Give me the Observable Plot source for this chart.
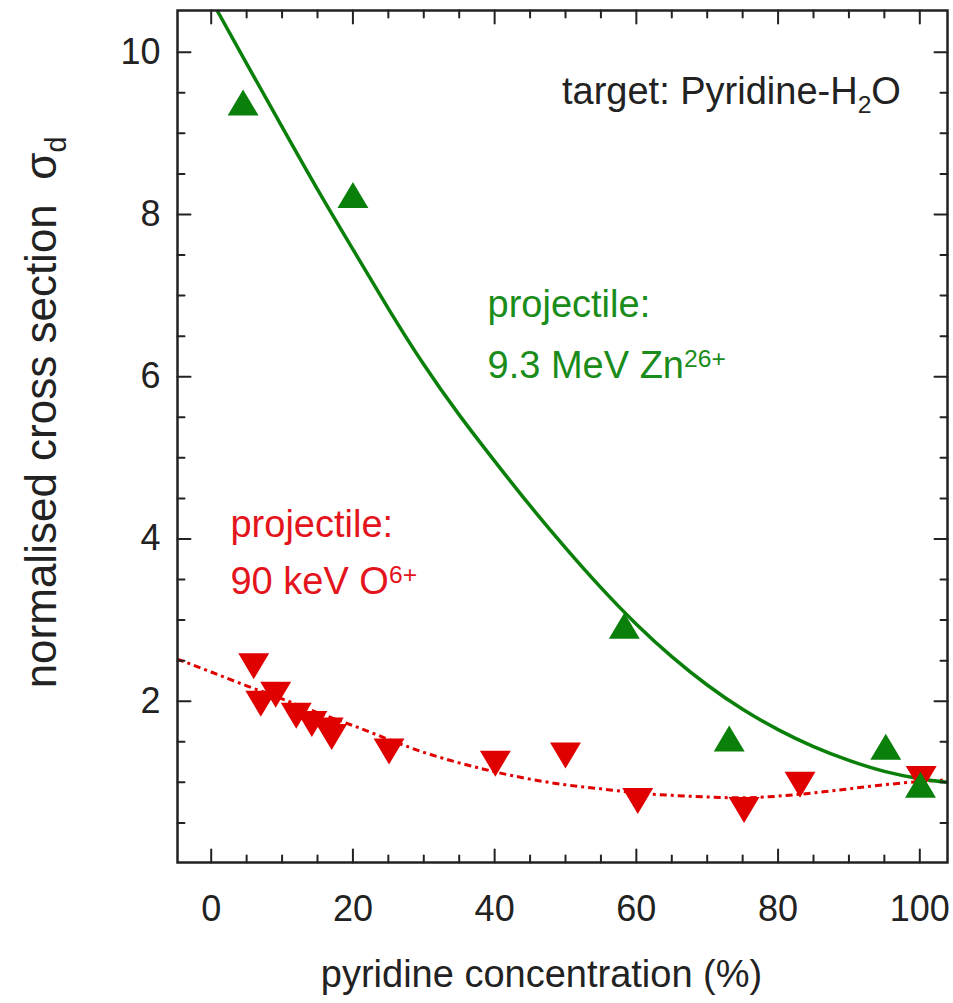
<!DOCTYPE html>
<html><head><meta charset="utf-8">
<script src="https://cdn.jsdelivr.net/npm/d3@7"></script>
<script src="https://cdn.jsdelivr.net/npm/@observablehq/plot@0.6"></script>
<style>
body{margin:0;background:#fff;}
#chart svg{display:block;}
</style></head><body><div id="chart"></div>
<script>
// ---- data ----
const znX = [4.5, 20.0, 58.3, 73.1, 95.2, 100.1];
const znY = [9.38, 8.24, 2.93, 1.54, 1.44, 0.97];
const oX = [6.0, 7.0, 9.1, 12.0, 14.2, 16.5, 17.0, 25.1, 40.1, 50.0, 60.2, 75.2, 83.1, 100.2];
const oY = [2.43, 1.97, 2.08, 1.82, 1.72, 1.64, 1.56, 1.38, 1.23, 1.33, 0.77, 0.66, 0.97, 1.04];
const znFitX = [0.8, 5, 10, 15, 20, 25, 30, 35, 40, 45, 50, 55, 60, 65, 70, 75, 80, 85, 90, 95, 100, 104];
const znFitY = [10.52, 9.86, 9.08, 8.31, 7.57, 6.84, 6.15, 5.53, 4.96, 4.41, 3.89, 3.40, 2.95, 2.55, 2.20, 1.90, 1.65, 1.44, 1.27, 1.135, 1.045, 1.00];
const oFitX = [-4.8, 0, 5, 10, 15, 20, 25, 30, 35, 40, 45, 50, 55, 60, 65, 70, 75, 80, 85, 90, 95, 100, 104];
const oFitY = [2.52, 2.36, 2.19, 2.03, 1.86, 1.70, 1.53, 1.37, 1.24, 1.13, 1.04, 0.97, 0.92, 0.87, 0.84, 0.82, 0.81, 0.83, 0.87, 0.92, 0.97, 1.01, 1.03];
const xTicks = [0, 20, 40, 60, 80, 100];
const xMinor = [5, 10, 15, 25, 30, 35, 45, 50, 55, 65, 70, 75, 85, 90, 95];
const yTicks = [2, 4, 6, 8, 10];
const yMinor = [0.5, 1, 1.5, 2.5, 3, 3.5, 4.5, 5, 5.5, 6.5, 7, 7.5, 8.5, 9, 9.5];
const xLabel = "pyridine concentration (%)";
const yLabel = "normalised cross section  σ_{d}";
const targetText = "target: Pyridine-H_{2}O";
const znText = ["projectile:", "9.3 MeV Zn^{26+}"];
const oText = ["projectile:", "90 keV O^{6+}"];

// ---- build ----
const xDom = [-4.756, 103.91], yDom = [0.012, 10.514];
const zn = znX.map((x, i) => ({x, y: znY[i]}));
const ox = oX.map((x, i) => ({x, y: oY[i]}));
const znFit = znFitX.map((x, i) => ({x, y: znFitY[i]}));
const oFit = oFitX.map((x, i) => ({x, y: oFitY[i]}));
const green = "#0a800a", red = "#e00000", ink = "#222";
const greenText = "#1a8c1a", redText = "#e3141c";

const upTri = {draw(c, size) { const r = Math.sqrt(size / Math.PI); c.moveTo(0, -r); c.lineTo(1.19 * r, r); c.lineTo(-1.19 * r, r); c.closePath(); }};
const downTri = {draw(c, size) { const r = Math.sqrt(size / Math.PI); c.moveTo(0, r); c.lineTo(1.19 * r, -r); c.lineTo(-1.19 * r, -r); c.closePath(); }};
const tickShape = {draw(c, l) { c.moveTo(0, 0); c.lineTo(0, -l); }};

function ticks(data, len, side) {
  const o = {length: len, anchor: "start", shape: tickShape, stroke: ink, strokeWidth: 2};
  if (side === "bottom") return Plot.vector(data, {...o, x: d => d, y: () => yDom[0], rotate: 0});
  if (side === "top") return Plot.vector(data, {...o, x: d => d, y: () => yDom[1], rotate: 180});
  if (side === "left") return Plot.vector(data, {...o, y: d => d, x: () => xDom[0], rotate: 90});
  return Plot.vector(data, {...o, y: d => d, x: () => xDom[1], rotate: -90});
}

const font = "'Liberation Sans', Arial, sans-serif";
const plot = Plot.plot({
  width: 953, height: 1003,
  marginLeft: 177, marginRight: 6, marginTop: 10, marginBottom: 141,
  style: {fontFamily: font, background: "white", color: ink},
  x: {domain: xDom},
  y: {domain: yDom},
  marks: [
    Plot.line(oFit, {x: "x", y: "y", stroke: red, strokeWidth: 3, strokeDasharray: "7,4,3,4", strokeLinecap: "butt", curve: "natural", clip: true}),
    Plot.line(znFit, {x: "x", y: "y", stroke: green, strokeWidth: 3.5, curve: "natural", clip: true}),
    Plot.dot(ox, {x: "x", y: "y", symbol: downTri, r: 13, fill: red, stroke: "none"}),
    Plot.dot(zn, {x: "x", y: "y", symbol: upTri, r: 13, fill: green, stroke: "none"}),
    ticks(xTicks, 13, "bottom"), ticks(xMinor, 7, "bottom"),
    ticks(xTicks, 13, "top"), ticks(xMinor, 7, "top"),
    ticks(yTicks, 13, "left"), ticks(yMinor, 7, "left"),
    ticks(yTicks, 13, "right"), ticks(yMinor, 7, "right"),
    Plot.frame({stroke: ink, strokeWidth: 2.5}),
    Plot.axisX(xTicks, {tickSize: 0, tickPadding: 33, fontSize: 36, label: null, fill: ink, tickFormat: d => String(d)}),
    Plot.axisY(yTicks, {tickSize: 0, tickPadding: 17, fontSize: 36, label: null, fill: ink, tickFormat: d => String(d)}),
    Plot.text([xLabel], {frameAnchor: "bottom", dy: 124, dx: -21, fontSize: 38, fill: ink}),
    Plot.text([yLabel], {frameAnchor: "left", textAnchor: "middle", rotate: -90, dx: -136, dy: -24, fontSize: 44, fill: ink}),
    Plot.text([targetText], {x: () => 49.5, y: () => 9.36, textAnchor: "start", lineAnchor: "bottom", fontSize: 38, fill: ink}),
    Plot.text([znText[0]], {x: () => 39.0, y: () => 6.73, textAnchor: "start", lineAnchor: "bottom", fontSize: 38, fill: greenText}),
    Plot.text([znText[1]], {x: () => 39.0, y: () => 5.99, textAnchor: "start", lineAnchor: "bottom", fontSize: 38, fill: greenText}),
    Plot.text([oText[0]], {x: () => 2.72, y: () => 4.02, textAnchor: "start", lineAnchor: "bottom", fontSize: 38, fill: redText}),
    Plot.text([oText[1]], {x: () => 2.72, y: () => 3.32, textAnchor: "start", lineAnchor: "bottom", fontSize: 38, fill: redText})
  ]
});

// rich text: _{sub} and ^{sup}
d3.select(plot).selectAll("text").each(function() {
  const s = this.textContent;
  if (!/[_^]\{/.test(s)) return;
  const parts = s.split(/([_^]\{[^}]*\})/);
  const el = d3.select(this);
  el.text(null);
  for (const p of parts) {
    if (!p) continue;
    const m = p.match(/^([_^])\{(.*)\}$/);
    if (m) el.append("tspan").attr("baseline-shift", m[1] === "^" ? "45%" : "-35%").attr("font-size", "65%").text(m[2]);
    else el.append("tspan").text(p);
  }
});
document.getElementById("chart").appendChild(plot);
</script></body></html>
